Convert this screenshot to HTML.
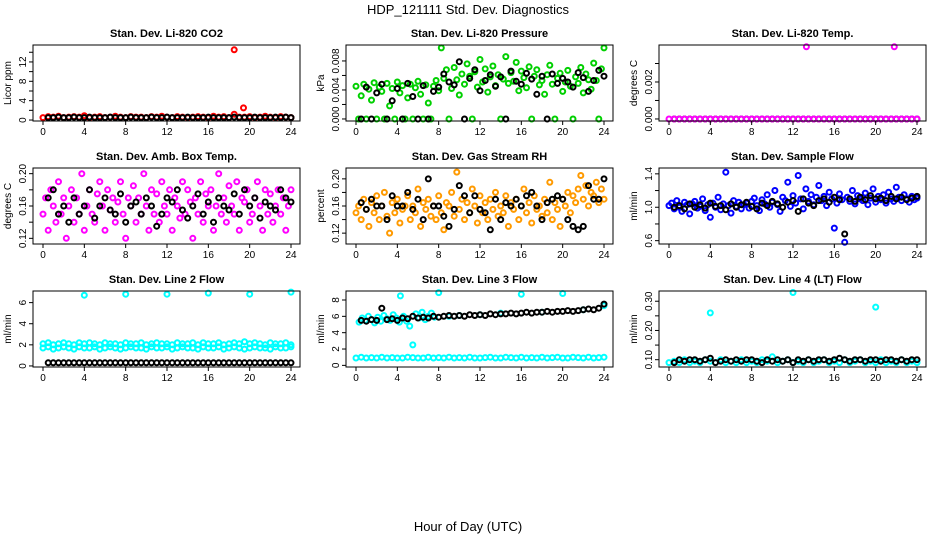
<!DOCTYPE html>
<html><head><meta charset="utf-8"><style>
body{margin:0;background:#fff;}
svg{display:block;font-family:"Liberation Sans",Arial,sans-serif;}
</style></head><body>
<svg id="c" width="936" height="540">
<text x="468" y="14" font-size="13" text-anchor="middle">HDP_121111  Std. Dev. Diagnostics</text>
<text x="468" y="531" font-size="13" text-anchor="middle">Hour of Day (UTC)</text>
</svg>
<script>
const hoursC=[0,0.25,0.5,0.75,1,1.25,1.5,1.75,2,2.25,2.5,2.75,3,3.25,3.5,3.75,4,4.25,4.5,4.75,5,5.25,5.5,5.75,6,6.25,6.5,6.75,7,7.25,7.5,7.75,8,8.25,8.5,8.75,9,9.25,9.5,9.75,10,10.25,10.5,10.75,11,11.25,11.5,11.75,12,12.25,12.5,12.75,13,13.25,13.5,13.75,14,14.25,14.5,14.75,15,15.25,15.5,15.75,16,16.25,16.5,16.75,17,17.25,17.5,17.75,18,18.25,18.5,18.75,19,19.25,19.5,19.75,20,20.25,20.5,20.75,21,21.25,21.5,21.75,22,22.25,22.5,22.75,23,23.25,23.5,23.75,24];
const hoursB=[0,0.5,1,1.5,2,2.5,3,3.5,4,4.5,5,5.5,6,6.5,7,7.5,8,8.5,9,9.5,10,10.5,11,11.5,12,12.5,13,13.5,14,14.5,15,15.5,16,16.5,17,17.5,18,18.5,19,19.5,20,20.5,21,21.5,22,22.5,23,23.5,24];
const hoursK=[0.5,1,1.5,2,2.5,3,3.5,4,4.5,5,5.5,6,6.5,7,7.5,8,8.5,9,9.5,10,10.5,11,11.5,12,12.5,13,13.5,14,14.5,15,15.5,16,16.5,17,17.5,18,18.5,19,19.5,20,20.5,21,21.5,22,22.5,23,23.5,24];
const xTicks=[0,4,8,12,16,20,24];

const co2Red=[0.5,0.7,0.6,0.8,0.5,0.6,0.7,0.6,0.9,0.5,0.6,0.7,0.5,0.6,0.8,0.6,0.5,0.7,0.6,0.6,0.5,0.7,0.6,0.8,0.6,0.5,0.7,0.6,0.5,0.6,0.7,0.6,0.5,0.8,0.6,0.7,0.5,1.2,0.6,0.6,0.7,0.5,0.6,0.8,0.6,0.5,0.7,0.6,0.5];
const co2OutX=[18.5,19.4], co2OutY=[14.5,2.5];
const co2Black=[0.5,0.5,0.6,0.5,0.5,0.6,0.5,0.5,0.6,0.5,0.5,0.5,0.6,0.5,0.5,0.5,0.6,0.5,0.5,0.5,0.6,0.5,0.5,0.6,0.5,0.5,0.5,0.6,0.5,0.5,0.5,0.6,0.5,0.5,0.5,0.5,0.6,0.5,0.5,0.5,0.6,0.5,0.5,0.5,0.6,0.5,0.6,0.5];
const presGreen=[4.5,0,3.2,4.8,0,4.1,2.6,5,0,4.4,3.8,0,4.9,1.8,4.2,0,5.1,3.6,4.6,0,2.9,4.8,0,4.3,5.2,3.4,0,4.7,2.2,0,4.5,5.3,3.9,9.8,5.6,6.8,0,4.2,7.1,5.4,3.3,6.2,4.8,7.6,5.9,0,6.5,4.4,8.2,5.1,6.9,3.7,5.8,7.3,4.6,6.1,0,5.5,8.6,4.9,6.4,5.2,7.8,3.9,6.6,5.7,4.3,7.2,0,5.9,6.8,4.7,5.3,3.4,6.1,7.4,4.8,0,5.6,6.3,3.8,5.1,6.7,4.5,0,5.8,4.9,7.1,3.6,6.2,5.4,4.1,7.7,5.3,0,6.9,9.8];
const presBlack=[0,4.4,0,3.6,4.8,0,2.5,4.2,0,4.9,3.1,0,4.6,0,3.8,4.4,6.2,5.1,4.7,7.9,0,5.6,6.8,3.9,5.3,6.1,4.5,5.8,0,6.6,5.2,4.8,6.3,5.5,3.4,5.9,0,6.2,4.9,5.6,5.1,4.4,6.4,5.7,3.8,5.3,6.7,5.9];
const tempMag=[0,0,0,0,0,0,0,0,0,0,0,0,0,0,0,0,0,0,0,0,0,0,0,0,0,0,0,0,0,0,0,0,0,0,0,0,0,0,0,0,0,0,0,0,0,0,0,0,0];
const tempOutX=[13.3,21.8], tempOutY=[3.9,3.9];
const ambMag=[0.15,0.17,0.13,0.18,0.16,0.14,0.19,0.15,0.17,0.12,0.16,0.18,0.14,0.17,0.15,0.2,0.13,0.16,0.18,0.15,0.14,0.175,0.19,0.16,0.13,0.18,0.155,0.17,0.14,0.165,0.19,0.15,0.12,0.17,0.16,0.185,0.14,0.17,0.15,0.2,0.16,0.13,0.18,0.15,0.175,0.14,0.19,0.16,0.15,0.18,0.13,0.17,0.16,0.145,0.19,0.15,0.18,0.165,0.12,0.17,0.15,0.19,0.14,0.175,0.16,0.18,0.13,0.16,0.2,0.15,0.17,0.14,0.185,0.16,0.15,0.19,0.13,0.17,0.165,0.18,0.14,0.15,0.17,0.19,0.16,0.13,0.18,0.15,0.175,0.14,0.16,0.18,0.15,0.17,0.13,0.16,0.18];
const ambBlack=[0.17,0.18,0.15,0.16,0.14,0.17,0.15,0.16,0.18,0.145,0.16,0.17,0.155,0.15,0.175,0.14,0.16,0.165,0.15,0.17,0.16,0.135,0.15,0.17,0.165,0.18,0.155,0.145,0.16,0.175,0.15,0.165,0.14,0.17,0.16,0.155,0.175,0.15,0.18,0.16,0.17,0.145,0.165,0.16,0.155,0.18,0.17,0.165];
const rhOrange=[0.15,0.16,0.14,0.17,0.155,0.13,0.165,0.15,0.175,0.14,0.16,0.18,0.145,0.12,0.165,0.15,0.17,0.135,0.155,0.16,0.175,0.14,0.16,0.15,0.185,0.13,0.165,0.155,0.17,0.145,0.16,0.14,0.175,0.15,0.125,0.165,0.16,0.18,0.145,0.21,0.155,0.17,0.14,0.165,0.15,0.185,0.16,0.135,0.175,0.15,0.165,0.14,0.17,0.155,0.18,0.145,0.16,0.15,0.175,0.13,0.165,0.155,0.17,0.14,0.16,0.185,0.15,0.165,0.135,0.175,0.155,0.16,0.145,0.17,0.15,0.195,0.14,0.165,0.155,0.13,0.17,0.16,0.18,0.15,0.175,0.165,0.185,0.205,0.17,0.19,0.16,0.18,0.175,0.195,0.165,0.185,0.17];
const rhBlack=[0.165,0.155,0.17,0.16,0.16,0.14,0.175,0.16,0.16,0.18,0.155,0.17,0.14,0.2,0.16,0.16,0.145,0.13,0.155,0.19,0.175,0.15,0.175,0.155,0.15,0.125,0.17,0.14,0.165,0.16,0.17,0.16,0.175,0.18,0.16,0.14,0.165,0.17,0.175,0.17,0.14,0.13,0.125,0.13,0.19,0.17,0.17,0.2];
const sfBlue=[1.02,1.05,0.98,1.08,1.0,0.95,1.06,1.03,0.92,1.04,1.07,0.99,1.01,1.1,0.96,1.03,0.88,1.05,1.0,1.12,0.97,1.04,1.42,1.02,0.93,1.08,1.01,1.06,0.98,1.03,1.05,0.99,1.07,1.11,1.02,0.96,1.09,1.04,1.15,1.0,1.06,1.2,1.03,0.95,1.12,1.08,1.3,1.01,1.14,1.05,1.38,1.1,0.98,1.22,1.07,1.15,1.03,1.12,1.26,1.08,1.13,1.02,1.18,1.1,0.75,1.05,1.16,1.09,0.58,1.12,1.07,1.2,1.04,1.14,1.1,1.08,1.17,1.03,1.11,1.22,1.06,1.13,1.09,1.15,1.05,1.18,1.1,1.07,1.24,1.12,1.08,1.15,1.1,1.06,1.13,1.09,1.11];
const sfBlack=[1.0,1.02,0.98,1.04,1.0,1.03,0.99,1.05,1.01,1.02,0.97,1.04,1.0,1.03,1.06,1.01,0.98,1.05,1.02,1.07,1.04,1.0,1.06,1.08,0.95,1.1,1.05,1.02,1.08,1.1,1.06,1.12,1.09,0.68,1.1,1.07,1.12,1.09,1.14,1.1,1.11,1.08,1.13,1.1,1.12,1.09,1.11,1.13];
const l2CyanA=[1.7,1.8,1.6,1.7,1.8,1.7,1.6,1.8,1.7,1.7,1.8,1.6,1.7,1.8,1.7,1.6,1.7,1.8,1.7,1.7,1.6,1.8,1.7,1.7,1.8,1.6,1.7,1.8,1.7,1.7,1.6,1.8,1.7,1.7,1.8,1.6,1.7,1.8,1.7,1.6,1.7,1.8,1.7,1.7,1.6,1.8,1.7,1.7,1.8];
const l2CyanB=[2.1,2.2,2.0,2.1,2.2,2.1,2.0,2.2,2.1,2.2,2.1,2.0,2.2,2.1,2.1,2.0,2.2,2.1,2.1,2.2,2.0,2.1,2.2,2.1,2.1,2.0,2.2,2.1,2.1,2.2,2.0,2.2,2.1,2.1,2.2,2.0,2.1,2.2,2.1,2.3,2.1,2.2,2.1,2.0,2.2,2.1,2.1,2.2,2.0];
const l2OutX=[4,8,12,16,20,24], l2OutY=[6.7,6.8,6.8,6.9,6.8,7.0];
const l2Black=[0.3,0.3,0.3,0.3,0.3,0.3,0.3,0.3,0.3,0.3,0.3,0.3,0.3,0.3,0.3,0.3,0.3,0.3,0.3,0.3,0.3,0.3,0.3,0.3,0.3,0.3,0.3,0.3,0.3,0.3,0.3,0.3,0.3,0.3,0.3,0.3,0.3,0.3,0.3,0.3,0.3,0.3,0.3,0.3,0.3,0.3,0.3,0.3];
const l3CyanLow=[0.9,1.0,0.9,0.95,0.9,1.0,0.9,0.95,0.9,0.9,1.0,0.95,0.9,0.9,1.0,0.9,0.95,0.9,1.0,0.9,0.95,0.9,1.0,0.9,0.9,0.95,1.0,0.9,0.9,1.0,0.95,0.9,1.0,0.9,0.95,0.9,1.0,0.9,0.95,1.0,0.9,0.9,1.0,0.95,0.9,1.0,0.9,0.95,1.0];
const l3CyanHiX=[0.3,0.6,0.9,1.2,1.5,1.8,2.1,2.4,2.7,3.0,3.3,3.6,3.9,4.2,4.3,4.6,4.9,5.2,5.5,5.8,6.1,6.4,6.7,7.0,7.3,7.6,8.0,9,10,12,14,16,18,20,22,24];
const l3CyanHiY=[5.3,5.8,5.5,6.0,5.6,5.2,5.9,5.4,6.1,5.7,5.5,6.2,5.8,5.3,8.5,6.0,5.4,4.8,2.5,6.3,5.8,6.5,5.6,6.0,6.4,5.9,8.9,6.0,6.1,6.2,6.4,8.7,6.5,8.8,6.8,7.3];
const l3Black=[5.5,5.4,5.6,5.5,7.0,5.6,5.7,5.5,5.8,5.7,6.0,5.8,5.9,5.8,6.0,5.9,6.0,6.1,6.0,6.1,6.0,6.2,6.1,6.2,6.1,6.3,6.2,6.3,6.3,6.4,6.3,6.4,6.5,6.4,6.5,6.5,6.6,6.5,6.6,6.6,6.7,6.6,6.7,6.8,6.9,6.8,7.0,7.5];
const l4Cyan=[0.09,0.095,0.09,0.1,0.09,0.095,0.09,0.1,0.095,0.09,0.1,0.09,0.095,0.09,0.1,0.09,0.095,0.09,0.1,0.095,0.11,0.09,0.095,0.1,0.09,0.095,0.09,0.1,0.09,0.095,0.1,0.09,0.095,0.09,0.1,0.09,0.095,0.1,0.09,0.095,0.09,0.1,0.09,0.095,0.09,0.1,0.09,0.095,0.09];
const l4OutX=[4,12,20], l4OutY=[0.26,0.33,0.28];
const l4Black=[0.09,0.1,0.095,0.1,0.1,0.095,0.1,0.105,0.09,0.095,0.1,0.095,0.1,0.095,0.1,0.1,0.095,0.09,0.1,0.095,0.1,0.095,0.1,0.09,0.1,0.095,0.1,0.095,0.1,0.1,0.095,0.1,0.105,0.1,0.095,0.1,0.1,0.095,0.1,0.1,0.095,0.1,0.1,0.095,0.1,0.095,0.1,0.1];

const ORANGE='#ff9a00';
const panels=[
 {name:'co2',title:'Stan. Dev. Li-820 CO2',ylab:'Licor ppm',col:0,row:0,ymin:-0.2,ymax:15.5,ticks:[0,2,4,6,8,10,12,14],labs:[[0,'0'],[4,'4'],[8,'8'],[12,'12']],
  series:[[hoursB,co2Red,'#ff0000'],[co2OutX,co2OutY,'#ff0000'],[hoursK,co2Black,'#000']]},
 {name:'pressure',title:'Stan. Dev. Li-820 Pressure',ylab:'kPa',col:1,row:0,ymin:-0.28,ymax:10.2,ticks:[0,2,4,6,8],labs:[[0,'0.000'],[4,'0.004'],[8,'0.008']],
  series:[[hoursC,presGreen,'#00d000'],[hoursK,presBlack,'#000']]},
 {name:'li820-temp',title:'Stan. Dev. Li-820 Temp.',ylab:'degrees C',col:2,row:0,ymin:-0.11,ymax:4.0,ticks:[0,1,2,3],labs:[[0,'0.000'],[2,'0.002']],
  series:[[hoursK,tempMag.slice(0,48),'#000'],[hoursB,tempMag,'#ff00ff'],[tempOutX,tempOutY,'#ff00ff']]},
 {name:'amb-box-temp',title:'Stan. Dev. Amb. Box Temp.',ylab:'degrees C',col:0,row:1,ymin:0.113,ymax:0.207,ticks:[0.12,0.14,0.16,0.18,0.2],labs:[[0.12,'0.12'],[0.16,'0.16'],[0.2,'0.20']],
  series:[[hoursC,ambMag,'#ff00ff'],[hoursK,ambBlack,'#000']]},
 {name:'gas-stream-rh',title:'Stan. Dev. Gas Stream RH',ylab:'percent',col:1,row:1,ymin:0.104,ymax:0.216,ticks:[0.12,0.14,0.16,0.18,0.2],labs:[[0.12,'0.12'],[0.16,'0.16'],[0.2,'0.20']],
  series:[[hoursC,rhOrange,ORANGE],[hoursK,rhBlack,'#000']]},
 {name:'sample-flow',title:'Stan. Dev. Sample Flow',ylab:'ml/min',col:2,row:1,ymin:0.56,ymax:1.47,ticks:[0.6,0.8,1.0,1.2,1.4],labs:[[0.6,'0.6'],[1.0,'1.0'],[1.4,'1.4']],
  series:[[hoursC,sfBlue,'#0000ff'],[hoursK,sfBlack,'#000']]},
 {name:'line2-flow',title:'Stan. Dev. Line 2 Flow',ylab:'ml/min',col:0,row:2,ymin:-0.1,ymax:7.1,ticks:[0,2,4,6],labs:[[0,'0'],[2,'2'],[4,'4'],[6,'6']],
  series:[[hoursB,l2CyanA,'#00ffff'],[hoursB,l2CyanB,'#00ffff'],[l2OutX,l2OutY,'#00ffff'],[hoursK,l2Black,'#000']]},
 {name:'line3-flow',title:'Stan. Dev. Line 3 Flow',ylab:'ml/min',col:1,row:2,ymin:-0.2,ymax:9.1,ticks:[0,2,4,6,8],labs:[[0,'0'],[2,'2'],[4,'4'],[6,'6'],[8,'8']],
  series:[[hoursB,l3CyanLow,'#00ffff'],[l3CyanHiX,l3CyanHiY,'#00ffff'],[hoursK,l3Black,'#000']]},
 {name:'line4-flow',title:'Stan. Dev. Line 4 (LT) Flow',ylab:'ml/min',col:2,row:2,ymin:0.075,ymax:0.335,ticks:[0.1,0.15,0.2,0.25,0.3],labs:[[0.1,'0.10'],[0.2,'0.20'],[0.3,'0.30']],
  series:[[hoursB,l4Cyan,'#00ffff'],[l4OutX,l4OutY,'#00ffff'],[hoursK,l4Black,'#000']]}
];
const NS='http://www.w3.org/2000/svg';
const svg=document.getElementById('c');
const colL=[33,346,659], rowT=[45,168,291], W=267, H=76;
function mk(tag,attrs,parent){const e=document.createElementNS(NS,tag);for(const k in attrs)e.setAttribute(k,attrs[k]);parent.appendChild(e);return e;}
panels.forEach(p=>{
  const L=colL[p.col], T=rowT[p.row];
  const xs=h=>L+10+h*(248/24);
  const ys=v=>T+H-(v-p.ymin)/(p.ymax-p.ymin)*H;
  const g=mk('g',{},svg);
  
  
  const t=mk('text',{x:L+W/2,y:T-8,'font-size':11,'font-weight':'bold','text-anchor':'middle'},g);
  t.textContent=p.title;
  
  
  const pts=mk('g',{fill:'none','stroke-width':2},g);
  
  
  p.series.forEach(s=>{
    const [hx,vals,color]=s;
    const n=Math.min(hx.length,vals.length);
    for(let i=0;i<n;i++){
      const c=mk('circle',{cx:xs(hx[i]).toFixed(1),cy:ys(vals[i]).toFixed(1),r:2.5,stroke:color},pts);
      
      
    }
  });
  const box=mk('rect',{x:L,y:T,width:W,height:H,fill:'none',stroke:'#000','stroke-width':1},g);
  
  
  const ax=mk('g',{stroke:'#000','stroke-width':1},g);
  
  
  mk('line',{x1:xs(0),x2:xs(24),y1:T+H,y2:T+H},ax);
  xTicks.forEach(v=>{
    mk('line',{x1:xs(v),x2:xs(v),y1:T+H,y2:T+H+4},ax);
    const tl=mk('text',{x:xs(v),y:T+H+14,'font-size':10,'text-anchor':'middle',stroke:'none'},ax);
    tl.textContent=v;
    
    
  });
  const ay=mk('g',{stroke:'#000','stroke-width':1},g);
  
  
  mk('line',{x1:L,x2:L,y1:ys(p.ticks[0]),y2:ys(p.ticks[p.ticks.length-1])},ay);
  p.ticks.forEach(v=>mk('line',{x1:L-4,x2:L,y1:ys(v),y2:ys(v)},ay));
  p.labs.forEach(([v,s])=>{
    const tl=mk('text',{x:0,y:0,'font-size':10,'text-anchor':'middle',stroke:'none',transform:`translate(${L-7},${ys(v)}) rotate(-90)`},ay);
    tl.textContent=s;
    
    
  });
  const yl=mk('text',{x:0,y:0,'font-size':10,'text-anchor':'middle',transform:`translate(${L-22},${T+H/2}) rotate(-90)`},g);
  yl.textContent=p.ylab;
  
  
});
</script>
</body></html>
